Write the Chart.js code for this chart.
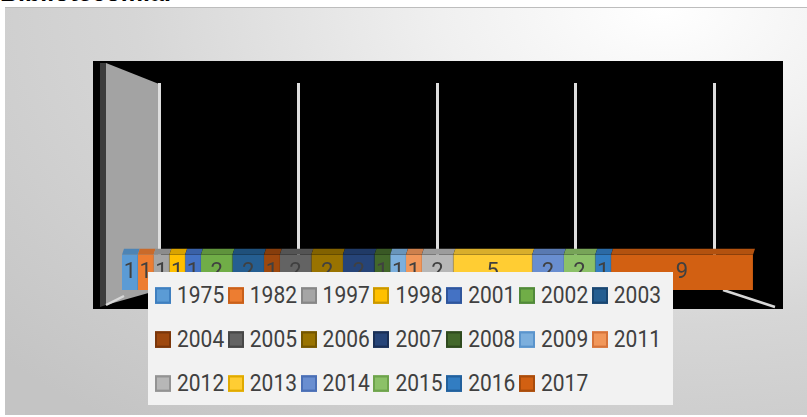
<!DOCTYPE html>
<html>
<head>
<meta charset="utf-8">
<script src="https://cdn.jsdelivr.net/npm/chart.js@4/dist/chart.umd.min.js"></script>
<style>
  body { margin: 0; width: 807px; height: 417px; overflow: hidden; background: #fff; position: relative; }
  .title { position: absolute; left: 0; top: -22px; font: bold 25px "Liberation Sans", Arial, sans-serif; color: #000; white-space: nowrap; }
  .panel { position: absolute; left: 5px; top: 7px; width: 802px; height: 407px; border-top: 1px solid #bdbdbd;
           background: radial-gradient(ellipse 110% 130% at 82% 0%, #ffffff 0%, #f0f0f0 25%, #d6d6d6 60%, #c4c4c4 100%); }
  canvas { position: absolute; left: 0; top: 0; }
  .legend { position: absolute; left: 148px; top: 272px; width: 525px; height: 133px; background: #f2f2f2; }
  .item { position: absolute; display: flex; align-items: center; font: 21px Roboto, sans-serif; color: #404040;
          transform: scaleY(1.1); transform-origin: left center; }
  .item i { display: inline-block; width: 12px; height: 11px; border: 2px solid; margin-right: 6px; }
</style>
</head>
<body>
<div class="title">Bibliotecomia.</div>
<div class="panel"></div>
<canvas id="c" width="807" height="417"></canvas>
<div class="legend" id="legend"></div>
<script>
// one stacked bar, one segment per year
const years = ['1975', '1982', '1997', '1998', '2001', '2002', '2003', '2004', '2005', '2006',
               '2007', '2008', '2009', '2011', '2012', '2013', '2014', '2015', '2016', '2017'];
const counts = [1, 1, 1, 1, 1, 2, 2, 1, 2, 2, 2, 1, 1, 1, 2, 5, 2, 2, 1, 9];
const rows = ['', '', '', '', '', 'Bibliotecas'];
const gridTicks = [0, 10, 20, 30, 40];

const fills = ['#5B9BD5', '#ED7D31', '#A5A5A5', '#FFC000', '#4472C4', '#70AD47', '#255E91',
               '#9E480E', '#636363', '#997300', '#264478', '#43682B', '#7CAFDD', '#F1975A',
               '#B7B7B7', '#FFCD33', '#698ED0', '#8CC168', '#327DC2', '#D26012'];
const edges = ['#3f7fbf', '#c9601a', '#878787', '#c99700', '#2f559c', '#51893a', '#1a4670',
               '#7a360a', '#474747', '#735600', '#1a2f55', '#2f4a1e', '#5a94cc', '#d6733a',
               '#939393', '#e0aa00', '#4a6fb5', '#6ea34c', '#22609c', '#a84c0c'];

function shade(hex, f) {
    const n = parseInt(hex.slice(1), 16);
    const r = Math.round(((n >> 16) & 255) * f), g = Math.round(((n >> 8) & 255) * f), b = Math.round((n & 255) * f);
    return 'rgb(' + r + ',' + g + ',' + b + ')';
}

const scene = {
    id: 'scene',
    beforeDraw(chart) {
        const { ctx, chartArea: a } = chart;
        ctx.save();
        // black back area
        ctx.fillStyle = '#000';
        ctx.fillRect(a.left - 29, a.top - 22, a.right - a.left + 59, a.bottom - a.top + 41);
        // left wall
        ctx.fillStyle = '#3c3c3c';
        ctx.beginPath();
        ctx.moveTo(a.left - 22, a.top - 20); ctx.lineTo(a.left - 16, a.top - 20);
        ctx.lineTo(a.left - 16, a.bottom + 15); ctx.lineTo(a.left - 22, a.bottom + 17);
        ctx.closePath(); ctx.fill();
        ctx.fillStyle = '#a3a3a3';
        ctx.beginPath();
        ctx.moveTo(a.left - 16, a.top - 20); ctx.lineTo(a.left + 37, a.top + 1);
        ctx.lineTo(a.left + 37, a.bottom); ctx.lineTo(a.left - 16, a.bottom + 15);
        ctx.closePath(); ctx.fill();
        // floor edges
        ctx.strokeStyle = '#d8d8d8';
        ctx.lineWidth = 2.5;
        ctx.beginPath();
        ctx.moveTo(a.right - 30, a.bottom); ctx.lineTo(a.right + 22, a.bottom + 17);
        ctx.moveTo(a.left - 16, a.bottom + 15); ctx.lineTo(a.left + 2, a.bottom + 6);
        ctx.stroke();
        ctx.restore();
    },
    afterDatasetsDraw(chart) {
        const { ctx } = chart;
        ctx.save();
        chart.data.datasets.forEach((ds, i) => {
            const meta = chart.getDatasetMeta(i);
            const bar = meta.data[rows.length - 1];
            if (!bar) return;
            const p = bar.getProps(['x', 'y', 'base', 'height']);
            const top = p.y - p.height / 2;
            // top face
            ctx.fillStyle = shade(fills[i], 0.85);
            ctx.beginPath();
            ctx.moveTo(p.base, top); ctx.lineTo(p.x, top);
            ctx.lineTo(p.x + 2, top - 6); ctx.lineTo(p.base + 2, top - 6);
            ctx.closePath(); ctx.fill();
            // value label
            ctx.fillStyle = '#404040';
            ctx.font = '22px Roboto, sans-serif';
            ctx.textAlign = 'center';
            ctx.textBaseline = 'middle';
            ctx.fillText(String(counts[i]), (p.x + p.base) / 2, p.y);
        });
        ctx.restore();
    }
};

const datasets = years.map((y, i) => ({
    label: y,
    data: rows.map((r, j) => (j === rows.length - 1 ? counts[i] : null)),
    backgroundColor: fills[i],
    borderColor: shade(fills[i], 0.9),
    borderWidth: { right: 1 },
    borderSkipped: false,
    barThickness: 36
}));

new Chart(document.getElementById('c'), {
    type: 'bar',
    data: { labels: rows, datasets: datasets },
    options: {
        indexAxis: 'y',
        responsive: false,
        animation: false,
        layout: { padding: { left: 122, right: 54, top: 83, bottom: 127 } },
        plugins: { legend: { display: false }, tooltip: { enabled: false } },
        scales: {
            x: { stacked: true, min: 0, max: 40, display: false },
            y: { stacked: true, display: false },
            x2: {
                type: 'linear', position: 'bottom', min: -2.74, max: 42.8,
                afterBuildTicks: s => { s.ticks = gridTicks.map(v => ({ value: v })); },
                ticks: { display: false },
                border: { display: false },
                grid: { color: '#dedede', lineWidth: 3, drawTicks: false }
            }
        }
    },
    plugins: [scene]
});

// legend, 7 per row
const legend = document.getElementById('legend');
years.forEach((y, i) => {
    const el = document.createElement('div');
    el.className = 'item';
    el.style.left = (7 + (i % 7) * 72.8) + 'px';
    el.style.top = (11 + Math.floor(i / 7) * 44) + 'px';
    el.innerHTML = '<i style="background:' + fills[i] + ';border-color:' + edges[i] + '"></i>' + y;
    legend.appendChild(el);
});
</script>
</body>
</html>
